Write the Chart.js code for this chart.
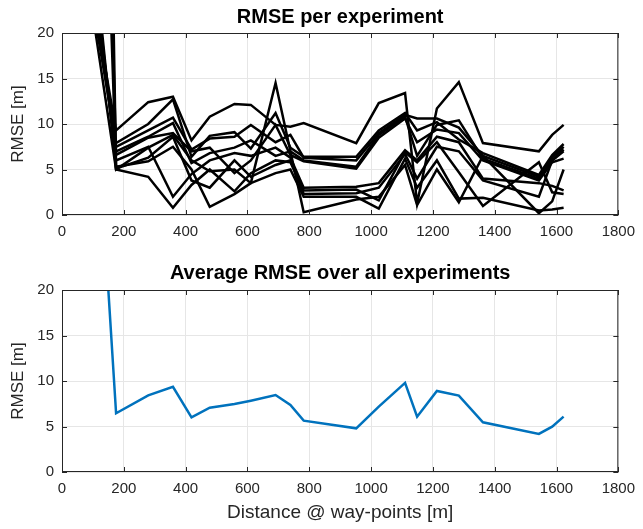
<!DOCTYPE html>
<html>
<head>
<meta charset="utf-8">
<script src="https://cdn.jsdelivr.net/npm/chart.js@4.4.1/dist/chart.umd.min.js"></script>
<style>
  body { margin: 0; background: #fff; }
  #wrap { position: relative; width: 643px; height: 529px; }
  canvas { position: absolute; left: 0; }
  #top { top: 0; }
  #bottom { top: 260px; }
</style>
</head>
<body>
<div id="wrap">
  <canvas id="top" width="643" height="260"></canvas>
  <canvas id="bottom" width="643" height="269"></canvas>
</div>
<script>
// way-point distances [m]
const distances = [100, 175, 279, 359, 419, 478, 558, 611, 691, 739, 782, 952, 1025, 1110, 1149, 1213, 1284, 1362, 1543, 1586, 1623];

// RMSE per experiment [m]
const exp1  = [24, 9.3, 12.4, 13.0, 8.2, 10.8, 12.2, 12.1, 9.9, 9.7, 10.1, 7.9, 12.3, 13.4, 1.3, 11.7, 14.6, 7.9, 7.0, 8.8, 9.9];
const exp2  = [23, 7.9, 10.0, 12.7, 6.4, 8.7, 9.1, 7.3, 11.2, 7.4, 6.4, 6.4, 9.3, 11.2, 9.3, 10.2, 8.3, 6.8, 4.4, 6.6, 7.8];
const exp3  = [26, 7.5, 9.3, 10.7, 7.2, 8.4, 8.6, 9.9, 8.0, 8.8, 6.3, 6.0, 9.0, 11.0, 10.6, 10.6, 9.6, 6.5, 4.2, 6.3, 7.5];
const exp4  = [25, 7.0, 8.6, 10.1, 5.7, 6.8, 7.4, 8.2, 6.5, 7.0, 6.0, 5.3, 8.8, 10.8, 6.5, 9.9, 10.4, 6.2, 4.0, 6.0, 7.2];
const exp5  = [100, 6.6, 8.5, 9.0, 7.0, 7.4, 4.6, 6.0, 9.9, 6.6, 5.9, 5.1, 8.5, 10.6, 8.0, 9.4, 9.0, 6.0, 3.8, 5.8, 6.2];
const exp6  = [28, 6.0, 7.5, 2.0, 4.5, 6.0, 6.8, 6.5, 7.4, 6.3, 3.0, 3.1, 3.5, 7.1, 6.0, 8.6, 8.0, 4.0, 3.5, 3.2, 2.7];
const exp7  = [30, 5.0, 4.2, 0.8, 3.3, 5.0, 2.6, 4.6, 6.0, 5.8, 2.7, 2.8, 1.6, 6.9, 5.8, 8.0, 4.7, 1.0, 5.8, 2.5, 2.3];
const exp8  = [80, 5.1, 6.3, 8.6, 3.8, 3.0, 6.0, 4.2, 5.5, 6.0, 2.3, 2.4, 3.0, 6.7, 4.0, 7.5, 7.0, 3.8, 2.0, 6.0, 7.0];
const exp9  = [22, 5.0, 7.4, 8.8, 6.0, 4.8, 5.0, 3.5, 4.6, 5.0, 2.0, 2.0, 0.7, 6.2, 3.0, 6.0, 1.8, 1.9, 0.5, 0.6, 0.8];
const exp10 = [150, 5.3, 5.9, 7.5, 5.0, 0.9, 2.3, 3.5, 14.5, 7.0, 0.3, 1.7, 2.0, 5.5, 1.1, 5.0, 1.4, 6.5, 0.2, 1.5, 5.0];
const experiments = [exp1, exp2, exp3, exp4, exp5, exp6, exp7, exp8, exp9, exp10];

// average RMSE over all experiments [m]
const avgRmse = [47, 6.45, 8.43, 9.37, 6.0, 7.07, 7.47, 7.84, 8.46, 7.36, 5.64, 4.8, 7.18, 9.8, 6.08, 8.9, 8.39, 5.46, 4.18, 4.98, 6.08];

const xMin = 0, xMax = 1800, xStep = 200;
const yMin = 0, yMax = 20, yStep = 5;

const FONT = "'Liberation Sans', Arial, Helvetica, sans-serif";

// matlab like box with ticks pointing inwards
const boxPlugin = {
  id: 'matlabBox',
  afterDraw(chart) {
    const {ctx, chartArea: a, scales} = chart;
    const x = scales.x, y = scales.y;
    const len = 5;
    ctx.save();
    ctx.strokeStyle = '#262626';
    ctx.lineWidth = 1;
    ctx.strokeRect(a.left + 0.5, a.top + 0.5, a.width - 1, a.height - 1);
    ctx.beginPath();
    x.ticks.forEach(t => {
      const px = Math.round(x.getPixelForValue(t.value)) + 0.5;
      ctx.moveTo(px, a.bottom); ctx.lineTo(px, a.bottom - len);
      ctx.moveTo(px, a.top); ctx.lineTo(px, a.top + len);
    });
    y.ticks.forEach(t => {
      const py = Math.round(y.getPixelForValue(t.value)) + 0.5;
      ctx.moveTo(a.left, py); ctx.lineTo(a.left + len, py);
      ctx.moveTo(a.right, py); ctx.lineTo(a.right - len, py);
    });
    ctx.stroke();
    ctx.restore();
  }
};

function makeOptions(title, titlePad, xAxisHeight, xTitle) {
  return {
    responsive: false,
    animation: false,
    devicePixelRatio: 1,
    layout: { padding: { left: 0, right: 18, top: 0, bottom: 0 } },
    plugins: {
      legend: { display: false },
      tooltip: { enabled: false },
      title: {
        display: true,
        fullSize: false,
        text: title,
        color: '#000',
        font: { family: FONT, size: 20, weight: 'bold', lineHeight: 1.2 },
        padding: titlePad
      }
    },
    scales: {
      x: {
        type: 'linear',
        min: xMin, max: xMax,
        ticks: {
          stepSize: xStep, color: '#262626', padding: 8,
          font: { family: FONT, size: 15 },
          callback: v => String(v)
        },
        grid: { color: '#e6e6e6', drawTicks: false },
        border: { display: false },
        title: {
          display: !!xTitle,
          text: xTitle || '',
          color: '#262626',
          font: { family: FONT, size: 19 },
          padding: { top: 5, bottom: 5 }
        },
        afterFit(scale) { scale.height = xAxisHeight; }
      },
      y: {
        min: yMin, max: yMax,
        ticks: { stepSize: yStep, color: '#262626', padding: 8, font: { family: FONT, size: 15 } },
        grid: { color: '#e6e6e6', drawTicks: false },
        border: { display: false },
        title: {
          display: true,
          text: 'RMSE [m]',
          color: '#262626',
          font: { family: FONT, size: 17 },
          padding: { top: 8, bottom: 0 }
        },
        afterFit(scale) { scale.width = 62; }
      }
    }
  };
}

new Chart(document.getElementById('top'), {
  type: 'line',
  data: {
    datasets: experiments.map(e => ({
      data: distances.map((d, i) => ({ x: d, y: e[i] })),
      borderColor: '#000',
      borderWidth: 2.5,
      pointRadius: 0,
      tension: 0,
      fill: false
    }))
  },
  options: makeOptions('RMSE per experiment', { top: 5, bottom: 4 }, 45, null),
  plugins: [boxPlugin]
});

new Chart(document.getElementById('bottom'), {
  type: 'line',
  data: {
    datasets: [{
      data: distances.map((d, i) => ({ x: d, y: avgRmse[i] })),
      borderColor: '#0072BD',
      borderWidth: 2.5,
      pointRadius: 0,
      tension: 0,
      fill: false
    }]
  },
  options: makeOptions('Average RMSE over all experiments', { top: 1, bottom: 5 }, 57, 'Distance @ way-points [m]'),
  plugins: [boxPlugin]
});
</script>
</body>
</html>
